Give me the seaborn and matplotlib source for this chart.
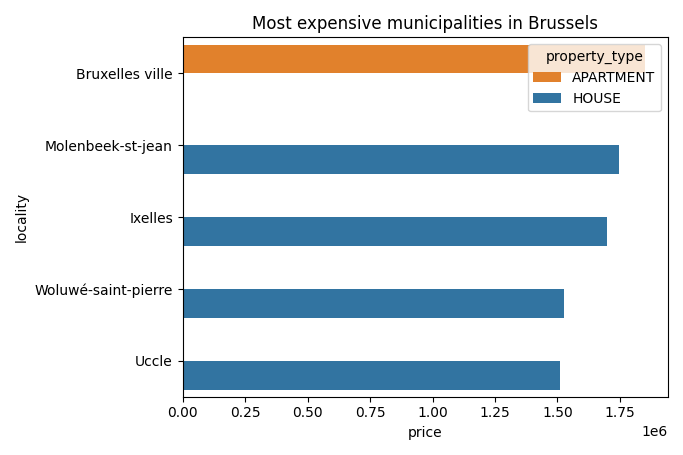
import matplotlib
matplotlib.use("Agg")
import matplotlib.pyplot as plt
import seaborn as sns
import pandas as pd

locality = ["Bruxelles ville", "Molenbeek-st-jean", "Ixelles", "Woluwé-saint-pierre", "Uccle"]
property_type = ["APARTMENT", "HOUSE", "HOUSE", "HOUSE", "HOUSE"]
price = [1850000, 1745000, 1700000, 1525000, 1510000]

df = pd.DataFrame({"locality": locality, "property_type": property_type, "price": price})

fig, ax = plt.subplots(figsize=(6.83, 4.55), dpi=100)
sns.barplot(data=df, x="price", y="locality", hue="property_type",
            hue_order=["APARTMENT", "HOUSE"], dodge=True,
            palette={"APARTMENT": "C1", "HOUSE": "C0"}, ax=ax)
ax.set_title("Most expensive municipalities in Brussels")
plt.tight_layout()
fig.savefig("out.png", dpi=100)
